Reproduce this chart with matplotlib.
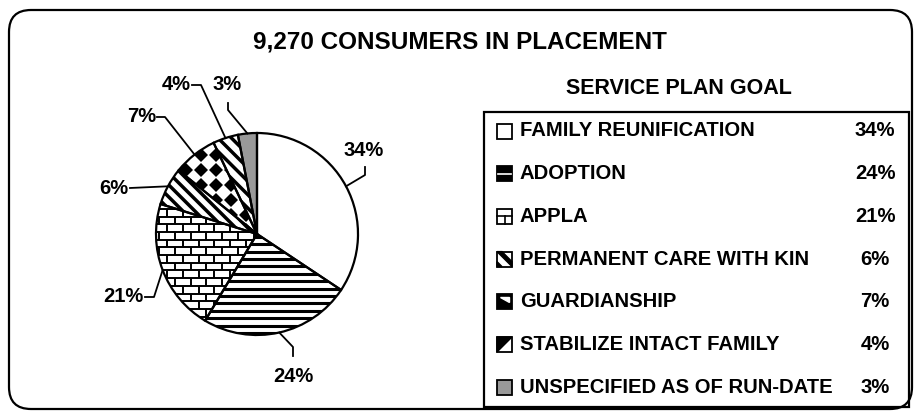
import numpy as np
import matplotlib
matplotlib.use("Agg")
import matplotlib.pyplot as plt
from matplotlib.collections import LineCollection
from matplotlib.patches import Rectangle, FancyBboxPatch, Polygon

plt.rcParams["font.family"] = ["Liberation Sans", "DejaVu Sans"]
plt.rcParams["font.weight"] = "bold"

# data
total_consumers = 9270
goals = [
    "FAMILY REUNIFICATION",
    "ADOPTION",
    "APPLA",
    "PERMANENT CARE WITH KIN",
    "GUARDIANSHIP",
    "STABILIZE INTACT FAMILY",
    "UNSPECIFIED AS OF RUN-DATE",
]
shares = [34, 24, 21, 6, 7, 4, 3]
pct_labels = [f"{v}%" for v in shares]

W, H = 915, 413
cx, cy, R = 257, 234, 101  # pie centre/radius in pixels (y from top)


def fy(y):
    return H - y


fig = plt.figure(figsize=(W / 100, H / 100), dpi=100)
ax = fig.add_axes([0, 0, 1, 1])

face = ["white", "white", "white", "white", "white", "white", "#999999"]
wedges, _ = ax.pie(shares, center=(cx, fy(cy)), radius=R, startangle=90,
                   counterclock=False, colors=face,
                   wedgeprops=dict(linewidth=0, zorder=1))
ax.pie(shares, center=(cx, fy(cy)), radius=R, startangle=90,
       counterclock=False,
       wedgeprops=dict(fill=False, edgecolor="black", linewidth=1.6, zorder=4))


def stripes(wedge, angle, period, lw):
    d = np.radians(angle)
    u = np.array([np.cos(d), np.sin(d)])
    n = np.array([-np.sin(d), np.cos(d)])
    c = np.array([cx, fy(cy)])
    segs = []
    for o in np.arange(-1.2 * R, 1.2 * R, period):
        segs.append([c + o * n - 1.5 * R * u, c + o * n + 1.5 * R * u])
    lc = LineCollection(segs, colors="black", linewidths=lw, zorder=2)
    ax.add_collection(lc)
    lc.set_clip_path(wedge)


def bricks(wedge, rh, bw, lw):
    segs = []
    y0 = fy(cy) - 1.2 * R
    rows = np.arange(y0, fy(cy) + 1.2 * R, rh)
    for j, y in enumerate(rows):
        segs.append([(cx - 1.2 * R, y), (cx + 1.2 * R, y)])
        off = (j % 2) * bw / 2
        for x in np.arange(cx - 1.2 * R + off, cx + 1.2 * R, bw):
            segs.append([(x, y), (x, y + rh)])
    lc = LineCollection(segs, colors="black", linewidths=lw, zorder=2)
    ax.add_collection(lc)
    lc.set_clip_path(wedge)


def diamonds(wedge, step, size):
    xs, ys = np.meshgrid(np.arange(cx - R, cx + R, step),
                         np.arange(fy(cy) - R, fy(cy) + R, step))
    ln, = ax.plot(xs.ravel(), ys.ravel(), "D", color="black",
                  markersize=size, markeredgewidth=0, zorder=2)
    ln.set_clip_path(wedge)


stripes(wedges[1], 0, 7.4, 2.2)
bricks(wedges[2], 7.7, 15.7, 1.4)
stripes(wedges[3], -45, 8.5, 2.5)
diamonds(wedges[4], 15, 7.5)
stripes(wedges[5], -45, 9.5, 2.5)

# percentage labels with leader lines (pixel layout, y from top)
leaders = [
    [(365, 175), (365, 167)],
    [(293, 347), (293, 356)],
    [(154, 297), (145, 297)],
    [(130, 188)],
    [(165, 117), (157, 117)],
    [(201, 85), (192, 85)],
    [(228, 110), (228, 103)],
]
label_pos = [
    (364, 150, "center"),
    (293, 376, "center"),
    (143, 297, "right"),
    (128, 188, "right"),
    (156, 117, "right"),
    (191, 85, "right"),
    (227, 85, "center"),
]
for w, pts, (lx, ly, ha), lab in zip(wedges, leaders, label_pos, pct_labels):
    mid = np.radians((w.theta1 + w.theta2) / 2)
    ex, ey = cx + R * np.cos(mid), fy(cy) + R * np.sin(mid)
    xs = [ex] + [p[0] for p in pts]
    ys = [ey] + [fy(p[1]) for p in pts]
    ax.plot(xs, ys, color="black", lw=1.3, zorder=3)
    ax.text(lx, fy(ly), lab, ha=ha, va="center", fontsize=14.5,
            fontweight="bold")

# outer rounded frame
ax.add_patch(FancyBboxPatch((9, fy(409)), 903, 399,
                            boxstyle="round,pad=0,rounding_size=22",
                            fill=False, edgecolor="black", lw=1.6))
ax.text(460, fy(42), f"{total_consumers:,} CONSUMERS IN PLACEMENT",
        ha="center", va="center", fontsize=17.5, fontweight="bold")
ax.text(679, fy(88), "SERVICE PLAN GOAL", ha="center", va="center",
        fontsize=15.5, fontweight="bold")

# legend box
ax.add_patch(Rectangle((484, fy(407)), 425, 295, fill=False,
                       edgecolor="black", lw=1.6))
row0, dy = 131, 42.7
ix, isz = 497, 15
for i, (g, p) in enumerate(zip(goals, pct_labels)):
    y = row0 + i * dy
    x0, x1 = ix, ix + isz
    yt, yb = fy(y - isz / 2), fy(y + isz / 2)
    fc = "#999999" if i == 6 else "white"
    if i in (1, 4):
        fc = "black"
    ax.add_patch(Rectangle((x0, yb), isz, isz, facecolor=fc,
                           edgecolor="black", lw=1.3, zorder=5))
    ym = (yt + yb) / 2
    if i == 1:
        ax.plot([x0 + 1, x1 - 1], [ym, ym], color="white", lw=1.2, zorder=6)
    elif i == 2:
        ax.plot([x0, x1], [ym, ym], color="black", lw=1.2, zorder=6)
        ax.plot([(x0 + x1) / 2] * 2, [ym, yb], color="black", lw=1.2, zorder=6)
    elif i == 3:
        ax.add_patch(Polygon([(x0, yt), (x0 + 5, yt), (x1, yb + 5), (x1, yb)],
                             color="black", zorder=6))
        ax.add_patch(Polygon([(x0, yb), (x0, yb + 5), (x0 + 5, yb)],
                             color="black", zorder=6))
    elif i == 4:
        ax.add_patch(Polygon([(x0 + 3, yt - 3), (x1 - 3, yt - 3),
                              (x1 - 3, ym)], color="white", zorder=6))
    elif i == 5:
        ax.add_patch(Polygon([(x0, yt), (x1, yt), (x0, yb)],
                             color="black", zorder=6))
    ax.text(520, fy(y), g, ha="left", va="center", fontsize=14.6,
            fontweight="bold")
    ax.text(875, fy(y), p, ha="center", va="center", fontsize=14.6,
            fontweight="bold")

ax.set_xlim(0, W)
ax.set_ylim(0, H)
ax.set_aspect("auto")
ax.axis("off")
fig.savefig("out.png", dpi=100)
